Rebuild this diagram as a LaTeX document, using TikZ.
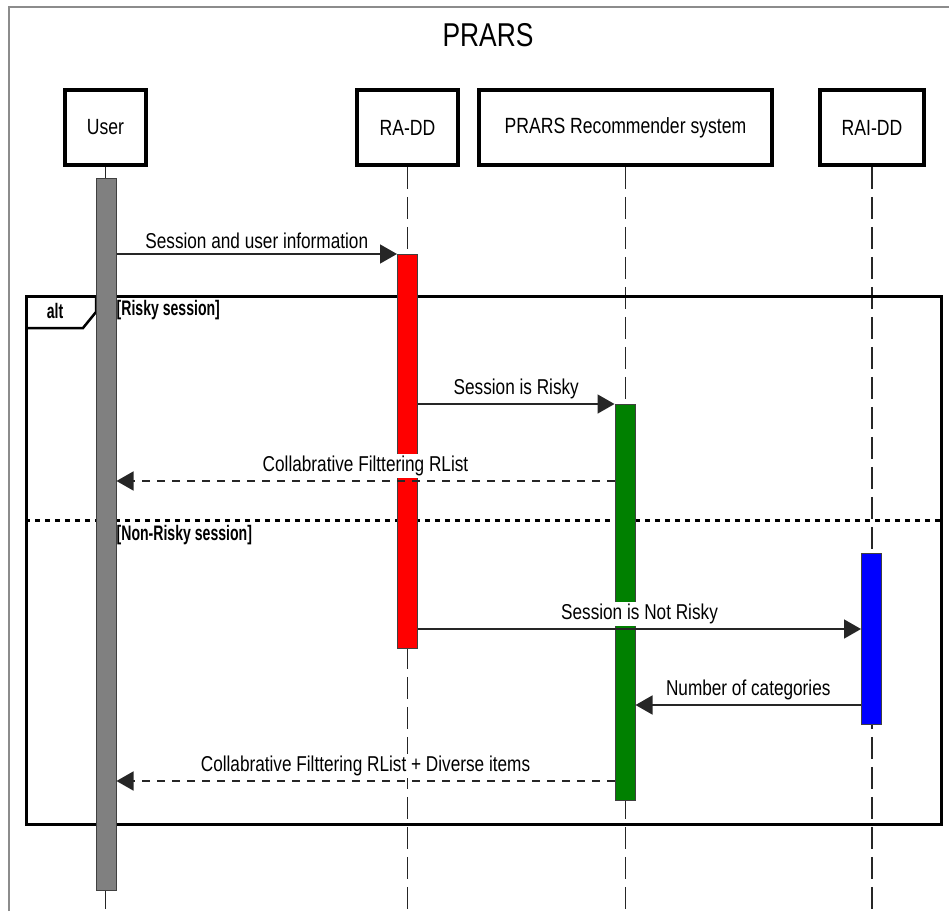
\documentclass[tikz,border=0pt]{standalone}
\usepackage{fontspec}
\setmainfont{Liberation Sans}[FakeStretch=0.8]
\newfontfamily\guardfont{Liberation Sans}[FakeStretch=0.67]
\usetikzlibrary{arrows.meta}

\definecolor{bargray}{HTML}{808080}
\definecolor{barred}{HTML}{FF0000}
\definecolor{bargreen}{HTML}{008000}
\definecolor{barblue}{HTML}{0000FF}

\tikzset{
  actor/.style={draw, line width=3.5pt, minimum height=75pt, inner sep=0pt,
    font=\fontsize{22}{26}\selectfont},
  lifeline/.style={draw=black!85, line width=1.3pt, dash pattern=on 22pt off 8pt},
  actbar/.style={draw=black!75, line width=1pt, minimum width=20pt, inner sep=0pt,
    anchor=north},
  msg/.style={draw=black!85, line width=1.6pt,
    -{Triangle[length=17pt,width=19pt]}},
  retmsg/.style={msg, dash pattern=on 8pt off 7pt},
  msglabel/.style={above=2pt, fill=white, inner sep=2pt,
    font=\fontsize{21.5}{25}\selectfont},
  guard/.style={anchor=west, inner sep=0pt,
    font=\guardfont\bfseries\fontsize{21}{24}\selectfont}
}

\begin{document}
\begin{tikzpicture}[x=1pt, y=-1pt]
\useasboundingbox (0,0) rectangle (949,911);

% page frame
\draw[black!45, line width=1.5pt] (9,911) -- (9,7) -- (949,7);

% title
\node[font=\fontsize{33}{38}\selectfont] (title) at (488,35) {PRARS};

% participants
\node[actor, minimum width=81pt]  (user)  at (105.5,127.5) {User};
\node[actor, minimum width=101pt] (radd)  at (407.5,127.5) {RA-DD};
\node[actor, minimum width=293pt] (prars) at (625.5,127.5) {PRARS Recommender system};
\node[actor, minimum width=104pt] (raidd) at (872,127.5) {RAI-DD};

% lifelines
\coordinate (bottom) at (0,911);
\foreach \p in {user,radd,prars,raidd}
  \draw[lifeline] (\p.south) -- (\p.south |- bottom);

% combined fragment
\node[draw, line width=3pt, minimum width=915pt, minimum height=528pt,
  inner sep=0pt, anchor=north west] (alt) at (25,295) {};
\draw[line width=2.5pt, line join=miter] (alt.north west) ++(0,33) -- ++(58,0)
  -- ++(13,-16) -- ++(0,-17);
\node[guard, anchor=center] (altlabel) at (55,311) {alt};
\coordinate (sep) at (0,520);
\draw[line width=3pt, dash pattern=on 5pt off 5pt] (alt.west |- sep) -- (alt.east |- sep);

% activation bars
\node[actbar, fill=bargray,  minimum height=712pt] (ubar) at (106,178) {};
\node[actbar, fill=barred,   minimum height=394pt] (rbar) at (407.5,254) {};
\node[actbar, fill=bargreen, minimum height=396pt] (pbar) at (625,404) {};
\node[actbar, fill=barblue,  minimum height=171pt] (ibar) at (871.5,553) {};

% guards
\node[guard] (g1) at (ubar.east |- 0,310) {[Risky session]};
\node[guard] (g2) at (ubar.east |- 0,535) {[Non-Risky session]};

% messages
\coordinate (m1) at (0,254);
\coordinate (m2) at (0,404);
\coordinate (m3) at (0,481);
\coordinate (m4) at (0,629);
\coordinate (m5) at (0,705);
\coordinate (m6) at (0,781);

\draw[msg] (ubar.east |- m1) -- node[msglabel] {Session and user information} (rbar.west |- m1);
\draw[msg] (rbar.east |- m2) -- node[msglabel] {Session is Risky} (pbar.west |- m2);
\draw[retmsg] (pbar.west |- m3) -- node[msglabel] {Collabrative Filttering RList} (ubar.east |- m3);
\draw[msg] (rbar.east |- m4) -- node[msglabel] {Session is Not Risky} (ibar.west |- m4);
\draw[msg] (ibar.west |- m5) -- node[msglabel] {Number of categories} (pbar.east |- m5);
\draw[retmsg] (pbar.west |- m6) -- node[msglabel] {Collabrative Filttering RList + Diverse items} (ubar.east |- m6);
\end{tikzpicture}
\end{document}
